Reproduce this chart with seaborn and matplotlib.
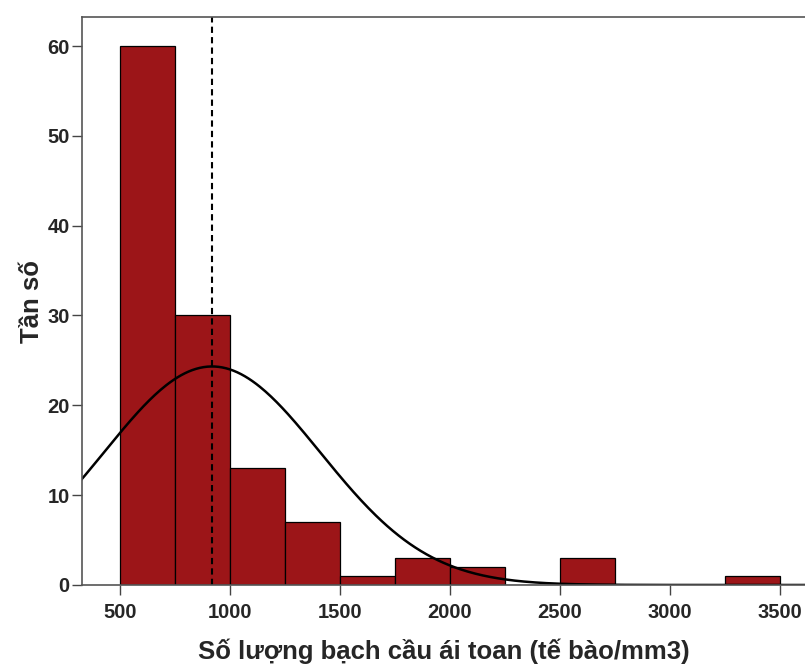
import numpy as np
import matplotlib
matplotlib.use("Agg")
import matplotlib.pyplot as plt
import seaborn as sns

# bin edges (tế bào/mm3) and counts
bin_edges = [500, 750, 1000, 1250, 1500, 1750, 2000, 2250, 2500, 2750, 3000, 3250, 3500]
counts = [60, 30, 13, 7, 1, 3, 2, 0, 3, 0, 0, 1]
mean_value = 918
sd_value = 492
n_total = sum(counts)
bin_width = 250

x_ticks = [500, 1000, 1500, 2000, 2500, 3000, 3500]
y_ticks = [0, 10, 20, 30, 40, 50, 60]

sns.set_style("ticks")
plt.rcParams['font.family'] = ['Liberation Sans', 'DejaVu Sans']

fig = plt.figure(figsize=(8.05, 6.64), dpi=100)
ax = fig.add_axes([0.102, 0.119, 0.898, 0.855])

mids = [(a + b) / 2 for a, b in zip(bin_edges[:-1], bin_edges[1:])]
sns.histplot(x=mids, weights=counts, bins=bin_edges, ax=ax,
             color="#9c1518", alpha=1, edgecolor="black", linewidth=0.9)

xs = np.linspace(300, 3700, 400)
ys = n_total * bin_width / (sd_value * np.sqrt(2 * np.pi)) * np.exp(-(xs - mean_value) ** 2 / (2 * sd_value ** 2))
sns.lineplot(x=xs, y=ys, ax=ax, color="black", linewidth=1.8)

ax.axvline(mean_value, color="black", linestyle=(0, (3, 2)), linewidth=1.5)

ax.set_xlim(327, 3614)
ax.set_ylim(0, 63.2)
ax.set_xticks(x_ticks)
ax.set_yticks(y_ticks)
ax.tick_params(axis="both", labelsize=14.5, length=7, width=1, color="#444444")
ax.tick_params(axis="x", pad=6)
ax.tick_params(axis="y", pad=2)
for lab in ax.get_xticklabels() + ax.get_yticklabels():
    lab.set_color("#262626")
    lab.set_fontweight("bold")

ax.set_xlabel("Số lượng bạch cầu ái toan (tế bào/mm3)", fontsize=18.5, fontweight="bold", labelpad=12)
ax.set_ylabel("Tần số", fontsize=18.5, fontweight="bold", labelpad=2)

for side in ["left", "bottom", "top"]:
    ax.spines[side].set_color("#555555")
    ax.spines[side].set_linewidth(1.2)
ax.spines["right"].set_visible(False)

fig.savefig("out.png", dpi=100)
